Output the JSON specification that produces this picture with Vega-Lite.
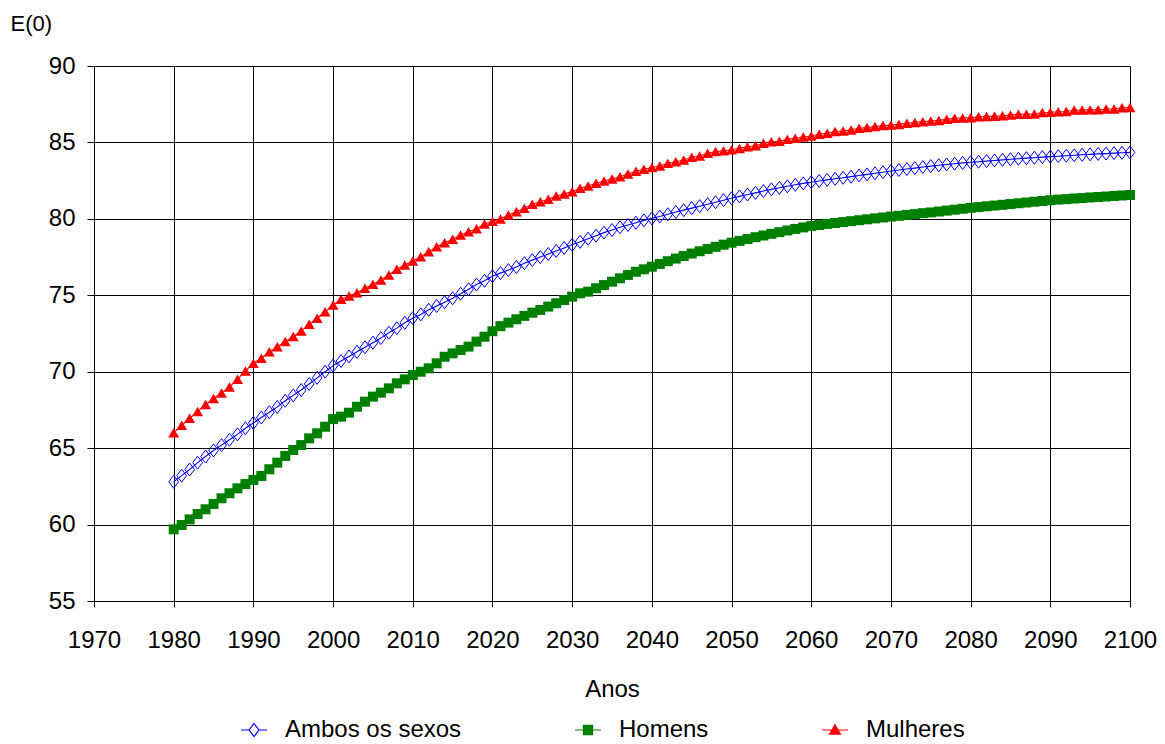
{
  "$schema": "https://vega.github.io/schema/vega-lite/v6.json",
  "width": 1036,
  "height": 535,
  "autosize": "none",
  "padding": {"left": 94, "top": 66, "right": 35, "bottom": 143},
  "background": "white",
  "config": {"view": {"stroke": null}},
  "data": {"values": [
    {"ano":1980,"Ambos os sexos":62.8,"Homens":59.69,"Mulheres":66.0},
    {"ano":1981,"Ambos os sexos":63.2,"Homens":59.97,"Mulheres":66.5},
    {"ano":1982,"Ambos os sexos":63.6,"Homens":60.34,"Mulheres":66.95},
    {"ano":1983,"Ambos os sexos":64.05,"Homens":60.69,"Mulheres":67.4},
    {"ano":1984,"Ambos os sexos":64.45,"Homens":61.0,"Mulheres":67.85},
    {"ano":1985,"Ambos os sexos":64.85,"Homens":61.35,"Mulheres":68.25},
    {"ano":1986,"Ambos os sexos":65.2,"Homens":61.72,"Mulheres":68.6},
    {"ano":1987,"Ambos os sexos":65.55,"Homens":62.05,"Mulheres":69.0},
    {"ano":1988,"Ambos os sexos":65.9,"Homens":62.37,"Mulheres":69.5},
    {"ano":1989,"Ambos os sexos":66.3,"Homens":62.65,"Mulheres":70.05},
    {"ano":1990,"Ambos os sexos":66.65,"Homens":62.92,"Mulheres":70.55},
    {"ano":1991,"Ambos os sexos":67.0,"Homens":63.18,"Mulheres":70.88},
    {"ano":1992,"Ambos os sexos":67.35,"Homens":63.62,"Mulheres":71.3},
    {"ano":1993,"Ambos os sexos":67.7,"Homens":64.05,"Mulheres":71.64},
    {"ano":1994,"Ambos os sexos":68.1,"Homens":64.49,"Mulheres":71.97},
    {"ano":1995,"Ambos os sexos":68.45,"Homens":64.88,"Mulheres":72.3},
    {"ano":1996,"Ambos os sexos":68.8,"Homens":65.2,"Mulheres":72.67},
    {"ano":1997,"Ambos os sexos":69.2,"Homens":65.64,"Mulheres":73.1},
    {"ano":1998,"Ambos os sexos":69.6,"Homens":65.97,"Mulheres":73.5},
    {"ano":1999,"Ambos os sexos":70.0,"Homens":66.4,"Mulheres":73.93},
    {"ano":2000,"Ambos os sexos":70.4,"Homens":66.9,"Mulheres":74.36},
    {"ano":2001,"Ambos os sexos":70.7,"Homens":67.06,"Mulheres":74.74},
    {"ano":2002,"Ambos os sexos":71.0,"Homens":67.32,"Mulheres":74.95},
    {"ano":2003,"Ambos os sexos":71.3,"Homens":67.71,"Mulheres":75.17},
    {"ano":2004,"Ambos os sexos":71.6,"Homens":68.04,"Mulheres":75.46},
    {"ano":2005,"Ambos os sexos":71.9,"Homens":68.37,"Mulheres":75.72},
    {"ano":2006,"Ambos os sexos":72.2,"Homens":68.63,"Mulheres":76.0},
    {"ano":2007,"Ambos os sexos":72.55,"Homens":68.91,"Mulheres":76.33},
    {"ano":2008,"Ambos os sexos":72.85,"Homens":69.24,"Mulheres":76.7},
    {"ano":2009,"Ambos os sexos":73.2,"Homens":69.5,"Mulheres":76.98},
    {"ano":2010,"Ambos os sexos":73.5,"Homens":69.78,"Mulheres":77.24},
    {"ano":2011,"Ambos os sexos":73.75,"Homens":70.0,"Mulheres":77.52},
    {"ano":2012,"Ambos os sexos":74.05,"Homens":70.22,"Mulheres":77.85},
    {"ano":2013,"Ambos os sexos":74.3,"Homens":70.55,"Mulheres":78.18},
    {"ano":2014,"Ambos os sexos":74.55,"Homens":70.98,"Mulheres":78.44},
    {"ano":2015,"Ambos os sexos":74.8,"Homens":71.2,"Mulheres":78.66},
    {"ano":2016,"Ambos os sexos":75.1,"Homens":71.42,"Mulheres":78.94},
    {"ano":2017,"Ambos os sexos":75.4,"Homens":71.64,"Mulheres":79.16},
    {"ano":2018,"Ambos os sexos":75.7,"Homens":71.97,"Mulheres":79.35},
    {"ano":2019,"Ambos os sexos":75.95,"Homens":72.29,"Mulheres":79.66},
    {"ano":2020,"Ambos os sexos":76.25,"Homens":72.65,"Mulheres":79.85},
    {"ano":2021,"Ambos os sexos":76.45,"Homens":72.98,"Mulheres":79.99},
    {"ano":2022,"Ambos os sexos":76.65,"Homens":73.21,"Mulheres":80.25},
    {"ano":2023,"Ambos os sexos":76.85,"Homens":73.43,"Mulheres":80.47},
    {"ano":2024,"Ambos os sexos":77.1,"Homens":73.65,"Mulheres":80.69},
    {"ano":2025,"Ambos os sexos":77.3,"Homens":73.86,"Mulheres":80.95},
    {"ano":2026,"Ambos os sexos":77.5,"Homens":74.04,"Mulheres":81.12},
    {"ano":2027,"Ambos os sexos":77.7,"Homens":74.26,"Mulheres":81.28},
    {"ano":2028,"Ambos os sexos":77.9,"Homens":74.48,"Mulheres":81.5},
    {"ano":2029,"Ambos os sexos":78.1,"Homens":74.69,"Mulheres":81.63},
    {"ano":2030,"Ambos os sexos":78.3,"Homens":74.91,"Mulheres":81.78},
    {"ano":2031,"Ambos os sexos":78.5,"Homens":75.13,"Mulheres":82.0},
    {"ano":2032,"Ambos os sexos":78.7,"Homens":75.24,"Mulheres":82.15},
    {"ano":2033,"Ambos os sexos":78.9,"Homens":75.46,"Mulheres":82.33},
    {"ano":2034,"Ambos os sexos":79.1,"Homens":75.67,"Mulheres":82.48},
    {"ano":2035,"Ambos os sexos":79.27,"Homens":75.89,"Mulheres":82.6},
    {"ano":2036,"Ambos os sexos":79.45,"Homens":76.11,"Mulheres":82.76},
    {"ano":2037,"Ambos os sexos":79.6,"Homens":76.33,"Mulheres":82.93},
    {"ano":2038,"Ambos os sexos":79.75,"Homens":76.54,"Mulheres":83.12},
    {"ano":2039,"Ambos os sexos":79.9,"Homens":76.7,"Mulheres":83.24},
    {"ano":2040,"Ambos os sexos":80.03,"Homens":76.87,"Mulheres":83.36},
    {"ano":2041,"Ambos os sexos":80.15,"Homens":77.05,"Mulheres":83.46},
    {"ano":2042,"Ambos os sexos":80.3,"Homens":77.23,"Mulheres":83.63},
    {"ano":2043,"Ambos os sexos":80.45,"Homens":77.4,"Mulheres":83.74},
    {"ano":2044,"Ambos os sexos":80.57,"Homens":77.57,"Mulheres":83.85},
    {"ano":2045,"Ambos os sexos":80.7,"Homens":77.73,"Mulheres":84.03},
    {"ano":2046,"Ambos os sexos":80.83,"Homens":77.88,"Mulheres":84.11},
    {"ano":2047,"Ambos os sexos":80.96,"Homens":78.03,"Mulheres":84.29},
    {"ano":2048,"Ambos os sexos":81.09,"Homens":78.17,"Mulheres":84.4},
    {"ano":2049,"Ambos os sexos":81.22,"Homens":78.31,"Mulheres":84.46},
    {"ano":2050,"Ambos os sexos":81.35,"Homens":78.44,"Mulheres":84.52},
    {"ano":2051,"Ambos os sexos":81.47,"Homens":78.56,"Mulheres":84.61},
    {"ano":2052,"Ambos os sexos":81.59,"Homens":78.68,"Mulheres":84.72},
    {"ano":2053,"Ambos os sexos":81.7,"Homens":78.8,"Mulheres":84.78},
    {"ano":2054,"Ambos os sexos":81.82,"Homens":78.91,"Mulheres":84.94},
    {"ano":2055,"Ambos os sexos":81.93,"Homens":79.02,"Mulheres":85.05},
    {"ano":2056,"Ambos os sexos":82.03,"Homens":79.13,"Mulheres":85.08},
    {"ano":2057,"Ambos os sexos":82.13,"Homens":79.24,"Mulheres":85.2},
    {"ano":2058,"Ambos os sexos":82.23,"Homens":79.34,"Mulheres":85.27},
    {"ano":2059,"Ambos os sexos":82.32,"Homens":79.44,"Mulheres":85.36},
    {"ano":2060,"Ambos os sexos":82.4,"Homens":79.53,"Mulheres":85.42},
    {"ano":2061,"Ambos os sexos":82.48,"Homens":79.6,"Mulheres":85.53},
    {"ano":2062,"Ambos os sexos":82.55,"Homens":79.67,"Mulheres":85.6},
    {"ano":2063,"Ambos os sexos":82.62,"Homens":79.73,"Mulheres":85.71},
    {"ano":2064,"Ambos os sexos":82.69,"Homens":79.79,"Mulheres":85.75},
    {"ano":2065,"Ambos os sexos":82.76,"Homens":79.85,"Mulheres":85.82},
    {"ano":2066,"Ambos os sexos":82.84,"Homens":79.91,"Mulheres":85.93},
    {"ano":2067,"Ambos os sexos":82.91,"Homens":79.97,"Mulheres":85.97},
    {"ano":2068,"Ambos os sexos":82.98,"Homens":80.03,"Mulheres":86.04},
    {"ano":2069,"Ambos os sexos":83.05,"Homens":80.09,"Mulheres":86.1},
    {"ano":2070,"Ambos os sexos":83.13,"Homens":80.15,"Mulheres":86.14},
    {"ano":2071,"Ambos os sexos":83.2,"Homens":80.2,"Mulheres":86.18},
    {"ano":2072,"Ambos os sexos":83.26,"Homens":80.26,"Mulheres":86.25},
    {"ano":2073,"Ambos os sexos":83.32,"Homens":80.31,"Mulheres":86.31},
    {"ano":2074,"Ambos os sexos":83.39,"Homens":80.37,"Mulheres":86.36},
    {"ano":2075,"Ambos os sexos":83.45,"Homens":80.42,"Mulheres":86.4},
    {"ano":2076,"Ambos os sexos":83.51,"Homens":80.48,"Mulheres":86.44},
    {"ano":2077,"Ambos os sexos":83.56,"Homens":80.54,"Mulheres":86.51},
    {"ano":2078,"Ambos os sexos":83.61,"Homens":80.6,"Mulheres":86.58},
    {"ano":2079,"Ambos os sexos":83.66,"Homens":80.66,"Mulheres":86.6},
    {"ano":2080,"Ambos os sexos":83.7,"Homens":80.72,"Mulheres":86.62},
    {"ano":2081,"Ambos os sexos":83.74,"Homens":80.77,"Mulheres":86.68},
    {"ano":2082,"Ambos os sexos":83.78,"Homens":80.82,"Mulheres":86.7},
    {"ano":2083,"Ambos os sexos":83.82,"Homens":80.87,"Mulheres":86.72},
    {"ano":2084,"Ambos os sexos":83.86,"Homens":80.92,"Mulheres":86.74},
    {"ano":2085,"Ambos os sexos":83.9,"Homens":80.97,"Mulheres":86.79},
    {"ano":2086,"Ambos os sexos":83.93,"Homens":81.02,"Mulheres":86.84},
    {"ano":2087,"Ambos os sexos":83.97,"Homens":81.07,"Mulheres":86.85},
    {"ano":2088,"Ambos os sexos":84.0,"Homens":81.12,"Mulheres":86.86},
    {"ano":2089,"Ambos os sexos":84.04,"Homens":81.17,"Mulheres":86.96},
    {"ano":2090,"Ambos os sexos":84.07,"Homens":81.22,"Mulheres":86.97},
    {"ano":2091,"Ambos os sexos":84.1,"Homens":81.26,"Mulheres":87.01},
    {"ano":2092,"Ambos os sexos":84.13,"Homens":81.29,"Mulheres":87.02},
    {"ano":2093,"Ambos os sexos":84.16,"Homens":81.33,"Mulheres":87.12},
    {"ano":2094,"Ambos os sexos":84.19,"Homens":81.36,"Mulheres":87.12},
    {"ano":2095,"Ambos os sexos":84.22,"Homens":81.4,"Mulheres":87.13},
    {"ano":2096,"Ambos os sexos":84.25,"Homens":81.43,"Mulheres":87.14},
    {"ano":2097,"Ambos os sexos":84.27,"Homens":81.46,"Mulheres":87.19},
    {"ano":2098,"Ambos os sexos":84.3,"Homens":81.5,"Mulheres":87.19},
    {"ano":2099,"Ambos os sexos":84.32,"Homens":81.53,"Mulheres":87.27},
    {"ano":2100,"Ambos os sexos":84.35,"Homens":81.56,"Mulheres":87.28}
  ]},
  "transform": [{"fold": ["Ambos os sexos", "Homens", "Mulheres"], "as": ["serie", "e0"]}],
  "encoding": {
    "x": {
      "field": "ano", "type": "quantitative",
      "scale": {"domain": [1970, 2100], "nice": false, "zero": false},
      "axis": {
        "values": [1970, 1980, 1990, 2000, 2010, 2020, 2030, 2040, 2050, 2060, 2070, 2080, 2090, 2100],
        "format": "d", "title": "Anos",
        "grid": true, "gridColor": "#000000", "gridWidth": 1, "gridOpacity": 1,
        "domainColor": "#000000", "domainWidth": 1,
        "tickColor": "#000000", "tickSize": 6, "tickWidth": 1,
        "labelFont": "Liberation Sans", "labelFontSize": 24, "labelColor": "#000000",
        "labelPadding": 21, "labelFlush": false, "labelOverlap": false,
        "titleFont": "Liberation Sans", "titleFontSize": 24, "titleFontWeight": "normal", "titleColor": "#000000",
        "titleBaseline": "middle", "titleY": 88
      }
    },
    "y": {
      "field": "e0", "type": "quantitative",
      "scale": {"domain": [55, 90], "nice": false, "zero": false},
      "axis": {
        "values": [55, 60, 65, 70, 75, 80, 85, 90],
        "title": "E(0)", "titleAngle": 0, "titleAlign": "left", "titleBaseline": "middle",
        "titleX": -84, "titleY": -43,
        "grid": true, "gridColor": "#000000", "gridWidth": 1, "gridOpacity": 1,
        "domainColor": "#000000", "domainWidth": 1,
        "tickColor": "#000000", "tickSize": 7, "tickWidth": 1,
        "labelFont": "Liberation Sans", "labelFontSize": 24, "labelColor": "#000000",
        "labelPadding": 12, "labelFlush": false, "labelOverlap": false,
        "titleFont": "Liberation Sans", "titleFontSize": 22, "titleFontWeight": "normal", "titleColor": "#000000"
      }
    }
  },
  "layer": [
    {
      "mark": {"type": "line", "strokeWidth": 1.1},
      "encoding": {
        "color": {
          "field": "serie", "type": "nominal",
          "scale": {"domain": ["Ambos os sexos", "Homens", "Mulheres"], "range": ["#0000FF", "#008000", "#FF0000"]},
          "legend": {
            "orient": "none", "legendX": 146, "legendY": 650,
            "direction": "horizontal", "title": null, "padding": 0,
            "labelFont": "Liberation Sans", "labelFontSize": 24, "labelColor": "#000000", "labelLimit": 0,
            "labelOffset": 17, "columnPadding": 110,
            "symbolSize": 676, "symbolStrokeWidth": 1.2, "symbolOpacity": 1
          }
        }
      }
    },
    {
      "transform": [{"filter": "datum.serie === 'Ambos os sexos'"}],
      "mark": {"type": "point", "shape": "M0,-1L0.75,0L0,1L-0.75,0Z", "size": 169, "filled": false, "color": "#0000FF", "opacity": 1, "strokeWidth": 1}
    },
    {
      "transform": [{"filter": "datum.serie === 'Homens'"}],
      "mark": {"type": "point", "shape": "square", "size": 100, "filled": true, "color": "#008000", "opacity": 1}
    },
    {
      "transform": [{"filter": "datum.serie === 'Mulheres'"}],
      "mark": {"type": "point", "shape": "triangle-up", "size": 120, "filled": true, "color": "#FF0000", "opacity": 1}
    },
    {
      "transform": [{"filter": "datum.ano > 3000"}],
      "mark": {"type": "point", "opacity": 1},
      "encoding": {
        "color": {"field": "serie", "type": "nominal"},
        "shape": {
          "field": "serie", "type": "nominal",
          "scale": {"domain": ["Ambos os sexos", "Homens", "Mulheres"], "range": [
            "M-1,0L-0.38,0M0.38,0L1,0M0,-0.5L0.38,0L0,0.5L-0.38,0Z",
            "M-1,0L1,0M-0.35,-0.35L0.35,-0.35L0.35,0.35L-0.35,0.35Z",
            "M-1,0L1,0M0,-0.4L0.42,0.32L-0.42,0.32Z"
          ]}
        },
        "fill": {
          "field": "serie", "type": "nominal",
          "scale": {"domain": ["Ambos os sexos", "Homens", "Mulheres"], "range": ["transparent", "#008000", "#FF0000"]}
        }
      }
    }
  ]
}
